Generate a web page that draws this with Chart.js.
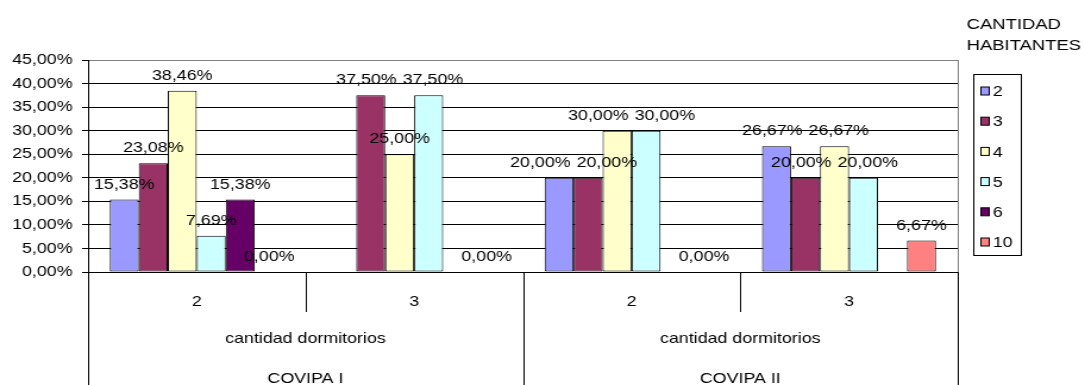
<!DOCTYPE html>
<html lang="es">
<head>
<meta charset="utf-8">
<title>Cantidad de habitantes por dormitorio — COVIPA I y COVIPA II</title>
<script src="https://cdn.jsdelivr.net/npm/chart.js@4.4.1/dist/chart.umd.min.js"></script>
<style>
  html, body { margin: 0; padding: 0; background: #fff; overflow: hidden; }
  /* el gráfico se dibuja algo más angosto y se estira en horizontal */
  #marco { width: 912px; height: 385px; transform: scaleX(1.1897); transform-origin: 0 0; }
</style>
</head>
<body>
<div id="marco"><canvas id="grafico"></canvas></div>
<script>
// ── Datos ─────────────────────────────────────────────────────────────
const categorias = ['2', '3', '2', '3'];          // cantidad dormitorios
const nivelDormitorios = 'cantidad dormitorios';
const proyectos = ['COVIPA I', 'COVIPA II'];       // dos categorías por proyecto
const habitantes = ['2', '3', '4', '5', '6', '10'];
const tituloLeyenda = ['CANTIDAD', 'HABITANTES'];

// porcentaje de viviendas por cantidad de habitantes (null = sin dato)
const hab2  = [15.38, null,  20.00, 26.67];
const hab3  = [23.08, 37.50, 20.00, 20.00];
const hab4  = [38.46, 25.00, 30.00, 26.67];
const hab5  = [7.69,  37.50, 30.00, 20.00];
const hab6  = [15.38, null,  null,  null];
const hab10 = [0.00,  0.00,  0.00,  6.67];

// eje Y: 0,00% a 45,00% cada 5
const yMin = 0;
const yMax = 45;
const yPaso = 5;

const colores = ['#9999FF', '#993366', '#FFFFCC', '#CCFFFF', '#660066', '#FF8080'];
const FUENTE = '"Liberation Sans", Arial, sans-serif';

// ── Formato 12,34% ────────────────────────────────────────────────────
function formatoPct(v) {
  return v.toFixed(2).replace('.', ',') + '%';
}

function linea(ctx, x1, y1, x2, y2) {
  ctx.beginPath();
  ctx.moveTo(x1, y1);
  ctx.lineTo(x2, y2);
  ctx.stroke();
}

// ── Etiquetas de valor encima de cada barra ───────────────────────────
// Si dos etiquetas del mismo grupo quedan a la misma altura y se pisan,
// se separan hacia los costados.
const etiquetasValor = {
  id: 'etiquetasValor',
  afterDatasetsDraw(chart) {
    const ctx = chart.ctx;
    ctx.save();
    ctx.font = '15px ' + FUENTE;
    ctx.fillStyle = '#000';
    ctx.textAlign = 'center';
    ctx.textBaseline = 'alphabetic';

    const porGrupo = categorias.map(() => []);
    chart.data.datasets.forEach((ds, i) => {
      chart.getDatasetMeta(i).data.forEach((barra, j) => {
        const v = ds.data[j];
        if (v === null) return;
        const texto = formatoPct(v);
        porGrupo[j].push({ texto, x: barra.x, y: barra.y - 11, w: ctx.measureText(texto).width });
      });
    });

    porGrupo.forEach(lista => {
      for (let pasada = 0; pasada < 3; pasada++) {
        for (let a = 0; a < lista.length; a++) {
          for (let b = a + 1; b < lista.length; b++) {
            const p = lista[a], q = lista[b];
            if (Math.abs(p.y - q.y) > 12) continue;
            const minimo = (p.w + q.w) / 2 + 5;
            const dx = q.x - p.x;
            if (Math.abs(dx) >= minimo) continue;
            const d = (minimo - Math.abs(dx)) / 2;
            const s = dx >= 0 ? 1 : -1;
            p.x -= s * d;
            q.x += s * d;
          }
        }
      }
      lista.forEach(e => ctx.fillText(e.texto, e.x, e.y));
    });
    ctx.restore();
  }
};

// ── Eje de categorías en tres niveles (tipo tabla) ────────────────────
const ejeCategorias = {
  id: 'ejeCategorias',
  afterDraw(chart) {
    const { ctx, chartArea: a, scales: { x } } = chart;
    const abajo = chart.height;
    const px = i => x.getPixelForValue(i);
    const limite = i => (px(i) + px(i + 1)) / 2;
    const r = v => Math.round(v) + 0.5;

    ctx.save();
    ctx.lineWidth = 1;

    // borde derecho del área de trazado
    ctx.strokeStyle = '#808080';
    linea(ctx, r(a.right), a.top, r(a.right), a.bottom);

    ctx.strokeStyle = '#000';
    // separadores entre proyectos (alto completo)
    [a.left, limite(1), a.right].forEach(xx => linea(ctx, r(xx), a.bottom, r(xx), abajo));
    // separadores entre categorías de dormitorios
    [limite(0), limite(2)].forEach(xx => linea(ctx, r(xx), a.bottom, r(xx), a.bottom + 40));

    ctx.fillStyle = '#000';
    ctx.font = '15px ' + FUENTE;
    ctx.textAlign = 'center';
    ctx.textBaseline = 'alphabetic';
    categorias.forEach((c, i) => ctx.fillText(c, px(i), a.bottom + 34));
    proyectos.forEach((p, k) => {
      const centro = (px(2 * k) + px(2 * k + 1)) / 2;
      ctx.fillText(nivelDormitorios, centro, a.bottom + 71);
      ctx.fillText(p, centro, a.bottom + 111);
    });
    ctx.restore();
  }
};

// ── Leyenda con recuadro a la derecha ─────────────────────────────────
const leyenda = {
  id: 'leyenda',
  afterDraw(chart) {
    const { ctx, chartArea: a } = chart;
    const x0 = Math.round(a.right + 13) + 0.5;
    const y0 = 74.5;
    ctx.save();

    ctx.fillStyle = '#000';
    ctx.font = '15.5px ' + FUENTE;
    ctx.textAlign = 'left';
    ctx.textBaseline = 'alphabetic';
    ctx.fillText(tituloLeyenda[0], a.right + 7.5, 29);
    ctx.fillText(tituloLeyenda[1], a.right + 7.5, 50);

    ctx.strokeStyle = '#000';
    ctx.lineWidth = 1;
    ctx.strokeRect(x0, y0, 40, 181);

    ctx.font = '15px ' + FUENTE;
    ctx.textBaseline = 'middle';
    chart.data.datasets.forEach((ds, i) => {
      const yc = 91 + i * 30.2;
      ctx.fillStyle = ds.backgroundColor;
      ctx.fillRect(x0 + 6, yc - 4, 7, 8);
      ctx.strokeRect(x0 + 6, yc - 4, 7, 8);
      ctx.fillStyle = '#000';
      ctx.fillText(ds.label, x0 + 16, yc + 1);
    });
    ctx.restore();
  }
};

// ── Gráfico ───────────────────────────────────────────────────────────
const series = [hab2, hab3, hab4, hab5, hab6, hab10];

new Chart(document.getElementById('grafico'), {
  type: 'bar',
  data: {
    labels: categorias,
    datasets: series.map((datos, i) => ({
      label: habitantes[i],
      data: datos,
      backgroundColor: colores[i],
      borderColor: '#000',
      borderWidth: 1,
      borderSkipped: false,
      categoryPercentage: 0.8,
      barPercentage: 1.0,
    }))
  },
  options: {
    responsive: true,
    maintainAspectRatio: false,
    animation: false,
    layout: { padding: { top: 60, right: 107, bottom: 113, left: 0 } },
    plugins: {
      legend: { display: false },
      tooltip: { enabled: false },
    },
    scales: {
      x: { display: false },
      y: {
        min: yMin,
        max: yMax,
        afterFit: scale => { scale.width = 74; },
        ticks: {
          stepSize: yPaso,
          padding: 8,
          color: '#000',
          font: { family: FUENTE, size: 15 },
          callback: v => formatoPct(v),
        },
        grid: {
          color: c => (c.tick && c.tick.value === yMax ? '#808080' : '#000'),
          tickColor: '#000',
          tickLength: 5,
          lineWidth: 1,
        },
        border: { color: '#000', width: 1 },
      }
    }
  },
  plugins: [etiquetasValor, ejeCategorias, leyenda]
});
</script>
</body>
</html>
